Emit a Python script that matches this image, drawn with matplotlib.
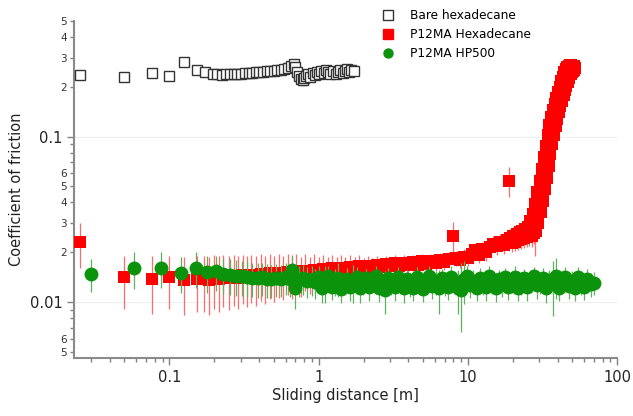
import matplotlib
matplotlib.use("Agg")
import matplotlib.pyplot as plt
from matplotlib.lines import Line2D
from matplotlib.ticker import FixedLocator, FixedFormatter, NullFormatter

plt.rcParams['font.family'] = ['DejaVu Sans']

# Bare hexadecane
bare_x = [0.0253, 0.05, 0.076, 0.1, 0.126, 0.154, 0.174, 0.197, 0.21, 0.225,
          0.24, 0.255, 0.27, 0.285, 0.3, 0.32, 0.34, 0.36, 0.38, 0.4,
          0.425, 0.45, 0.475, 0.5, 0.53, 0.56, 0.59, 0.62, 0.65, 0.68,
          0.7, 0.72, 0.74, 0.76, 0.78, 0.8, 0.82, 0.85, 0.88, 0.91,
          0.94, 0.97, 1.0, 1.04, 1.08, 1.12, 1.16, 1.2, 1.25, 1.3,
          1.35, 1.4, 1.45, 1.5, 1.55, 1.6, 1.65, 1.72]
bare_y = [0.235, 0.228, 0.242, 0.232, 0.283, 0.253, 0.244, 0.238, 0.237, 0.236,
          0.238, 0.239, 0.238, 0.24, 0.239, 0.241, 0.243, 0.242, 0.244, 0.245,
          0.244, 0.247, 0.248, 0.249, 0.251, 0.253, 0.256, 0.26, 0.268, 0.275,
          0.262, 0.245, 0.232, 0.222, 0.218, 0.225, 0.232, 0.238, 0.229, 0.241,
          0.236, 0.245, 0.24, 0.25, 0.243, 0.252, 0.246, 0.24, 0.248, 0.238,
          0.245, 0.252, 0.242, 0.25, 0.256, 0.246, 0.252, 0.248]
bare_err = 0.012

# P12MA in hexadecane
red_x = [0.0253, 0.05, 0.076, 0.1, 0.126, 0.154,
         0.17, 0.185, 0.2, 0.215, 0.23, 0.25, 0.27, 0.29, 0.31, 0.33,
         0.355, 0.38, 0.41, 0.44, 0.47, 0.5, 0.54, 0.58, 0.62, 0.66,
         0.71, 0.76, 0.81, 0.87, 0.93, 1.0, 1.07, 1.15, 1.23, 1.32,
         1.41, 1.51, 1.62, 1.74, 1.86, 2.0, 2.14, 2.3, 2.46, 2.64,
         2.83, 3.03, 3.25, 3.48, 3.73, 4.0, 4.29, 4.6, 4.93, 5.28,
         5.66, 6.07, 6.5, 6.97, 7.47, 7.9, 8.3, 8.8, 9.4, 10.0,
         10.6, 11.2, 11.8, 12.5, 13.2, 14.0, 14.8, 15.6, 16.5, 17.4,
         18.4, 18.8,
         19.2, 19.7, 20.2, 20.7, 21.2, 21.7, 22.2, 22.7, 23.2, 23.7,
         24.2, 24.7, 25.2, 25.7, 26.2, 26.7, 27.2, 27.7, 28.2, 28.7,
         29.2, 29.7, 30.2, 30.7, 31.2, 31.7, 32.2, 32.7, 33.2, 33.7,
         34.2, 34.7, 35.2, 35.7, 36.2, 36.7, 37.2, 37.7, 38.2, 38.7,
         39.2, 39.7, 40.2, 40.7, 41.2, 41.7, 42.2, 42.7, 43.2, 43.7,
         44.2, 44.7, 45.2, 45.7, 46.2, 46.7, 47.2, 47.7, 48.2, 48.7,
         49.2, 49.7, 50.2, 50.7, 51.2, 51.7, 52.2]
red_y = [0.023, 0.0141, 0.0137, 0.0141, 0.0136, 0.0138,
         0.0139, 0.0136, 0.0142, 0.0138, 0.0143, 0.0139, 0.0144, 0.014, 0.0145, 0.0141,
         0.0146, 0.0142, 0.0148, 0.0143, 0.0149, 0.0145, 0.015, 0.0146, 0.0152, 0.0147,
         0.0153, 0.0148, 0.0155, 0.015, 0.0157, 0.0151, 0.0158, 0.0153, 0.016, 0.0155,
         0.0161, 0.0156, 0.0163, 0.0158, 0.0165, 0.0159, 0.0166, 0.0161, 0.0168, 0.0162,
         0.0169, 0.0164, 0.0171, 0.0165, 0.0172, 0.0167, 0.0174, 0.0168, 0.0176, 0.017,
         0.0177, 0.0172, 0.0179, 0.0175, 0.0182, 0.025, 0.0184, 0.018, 0.0188, 0.0185,
         0.0195, 0.0205, 0.0192, 0.0208, 0.02, 0.0215, 0.0225, 0.0218, 0.0232, 0.0222,
         0.0238, 0.054,
         0.0245, 0.0228, 0.0252, 0.0232, 0.0258, 0.0236, 0.0264, 0.024, 0.027, 0.0244,
         0.0278, 0.0248, 0.0285, 0.0252, 0.031, 0.025, 0.034, 0.026, 0.039, 0.027,
         0.046, 0.03, 0.054, 0.035, 0.064, 0.041, 0.075, 0.048, 0.088, 0.056,
         0.102, 0.066, 0.118, 0.078, 0.132, 0.09, 0.145, 0.102, 0.157, 0.115,
         0.171, 0.127, 0.185, 0.14, 0.2, 0.152, 0.215, 0.165, 0.23, 0.178,
         0.245, 0.19, 0.255, 0.202, 0.262, 0.214, 0.268, 0.226, 0.27, 0.237,
         0.27, 0.245, 0.268, 0.25, 0.265, 0.252, 0.26]
red_err = [0.007, 0.005, 0.0052, 0.005, 0.0052, 0.0051,
           0.0052, 0.0052, 0.0051, 0.0051, 0.005, 0.005, 0.0049, 0.0049, 0.0048, 0.0048,
           0.0047, 0.0047, 0.0046, 0.0046, 0.0045, 0.0045, 0.0044, 0.0043, 0.0042, 0.0042,
           0.0041, 0.004, 0.0039, 0.0038, 0.0037, 0.0036, 0.0035, 0.0034, 0.0033, 0.0032,
           0.0031, 0.003, 0.0029, 0.0028, 0.0027, 0.0026, 0.0025, 0.0024, 0.0023, 0.0022,
           0.0022, 0.0021, 0.0021, 0.002, 0.002, 0.002, 0.0019, 0.0019, 0.0019, 0.0019,
           0.0019, 0.0019, 0.0019, 0.0019, 0.0019, 0.0055, 0.002, 0.002, 0.002, 0.002,
           0.002, 0.002, 0.0021, 0.0021, 0.0022, 0.0023, 0.0024, 0.0025, 0.0026, 0.0027,
           0.0028, 0.011,
           0.003, 0.0028, 0.0031, 0.0029, 0.0032, 0.003, 0.0033, 0.003, 0.0034, 0.0031,
           0.0035, 0.0032, 0.0037, 0.0033, 0.004, 0.0034, 0.0045, 0.0036, 0.02, 0.0038,
           0.006, 0.004, 0.007, 0.0045, 0.008, 0.0055, 0.0095, 0.0062, 0.011, 0.0072,
           0.012, 0.0085, 0.014, 0.01, 0.015, 0.0115, 0.016, 0.013, 0.017, 0.014,
           0.018, 0.015, 0.019, 0.016, 0.02, 0.017, 0.02, 0.018, 0.02, 0.019,
           0.02, 0.02, 0.02, 0.02, 0.02, 0.02, 0.02, 0.02, 0.02, 0.02,
           0.02, 0.02, 0.02, 0.02, 0.02, 0.02, 0.02]

# P12MA in HP500
green_x = [0.03, 0.058, 0.088, 0.12, 0.15, 0.18, 0.205, 0.23, 0.255, 0.28,
           0.305, 0.33, 0.36, 0.39, 0.42, 0.45, 0.48, 0.52, 0.56, 0.6,
           0.64, 0.66, 0.7, 0.74, 0.79, 0.84, 0.9, 0.95,
           1.0, 1.05, 1.1, 1.16, 1.22, 1.28, 1.34, 1.41, 1.48, 1.55,
           1.63, 1.71, 1.8, 1.89, 1.98, 2.08, 2.18, 2.29, 2.41, 2.53,
           2.65, 2.79, 2.93, 3.07, 3.23, 3.39, 3.56, 3.73, 3.92, 4.12,
           4.32, 4.54, 4.76, 5.0, 5.25, 5.52, 5.79, 6.08, 6.39, 6.7,
           7.04, 7.39, 7.76, 8.15, 8.56, 8.99, 9.43, 9.9, 10.4, 10.9,
           11.5, 12.0, 12.6, 13.3, 13.9, 14.6, 15.4, 16.1, 16.9, 17.8,
           18.7, 19.6, 20.6, 21.6, 22.7, 23.8, 25.0, 26.3, 27.6, 29.0,
           30.4, 31.9, 33.5, 35.2, 37.0, 38.8, 40.8, 42.8, 44.9, 47.2,
           49.5, 52.0, 54.6, 57.3, 60.2, 63.2, 66.4, 69.7]
green_y = [0.0148, 0.016, 0.0161, 0.015, 0.0161, 0.0152, 0.0153, 0.0148, 0.0146, 0.0144,
           0.0143, 0.0142, 0.014, 0.0139, 0.0141, 0.0138, 0.0137, 0.0139, 0.0137, 0.0141,
           0.0138, 0.0157, 0.0121, 0.0136, 0.0139, 0.0134, 0.0137, 0.0132,
           0.0141, 0.0122, 0.0132, 0.0143, 0.0124, 0.0134, 0.014, 0.012, 0.013, 0.0138,
           0.0123, 0.0133, 0.0142, 0.0121, 0.0131, 0.0139, 0.0124, 0.0135, 0.0143, 0.0122,
           0.0132, 0.0119, 0.014, 0.013, 0.0123, 0.0142, 0.0133, 0.0121, 0.0137, 0.0128,
           0.0122, 0.0141, 0.0131, 0.012, 0.0136, 0.0144, 0.0125, 0.0133, 0.0121, 0.0139,
           0.013, 0.0123, 0.0142, 0.0132, 0.0121, 0.0119, 0.0137, 0.0143, 0.0126, 0.0134,
           0.0121, 0.014, 0.013, 0.0123, 0.0143, 0.0132, 0.0122, 0.0137, 0.0128, 0.0141,
           0.0124, 0.0134, 0.0142, 0.0121, 0.0131, 0.0139, 0.0123, 0.0135, 0.0143, 0.0126,
           0.0132, 0.014, 0.0121, 0.0136, 0.013, 0.0144, 0.0122, 0.0133, 0.0141, 0.0125,
           0.0134, 0.0122, 0.0141, 0.013, 0.0124, 0.0138, 0.0128, 0.0131]
green_err = [0.0033, 0.004, 0.004, 0.0037, 0.004, 0.0038, 0.0037, 0.0036, 0.0035, 0.0035,
             0.0034, 0.0034, 0.0033, 0.0033, 0.0032, 0.0032, 0.0031, 0.0031, 0.003, 0.003,
             0.003, 0.0035, 0.003, 0.0029, 0.0029, 0.0028, 0.0028, 0.0027,
             0.0025, 0.0024, 0.0034, 0.0022, 0.0021, 0.0025, 0.0033, 0.0021, 0.002, 0.0023,
             0.0021, 0.0034, 0.002, 0.0022, 0.0021, 0.002, 0.0023, 0.002, 0.0021, 0.0022,
             0.002, 0.0034, 0.0021, 0.002, 0.0022, 0.002, 0.0021, 0.0023, 0.002, 0.0021,
             0.002, 0.0022, 0.0021, 0.002, 0.0023, 0.0021, 0.002, 0.0022, 0.0036, 0.002,
             0.0021, 0.002, 0.0022, 0.002, 0.0036, 0.0053, 0.004, 0.0021, 0.002, 0.0022,
             0.002, 0.0021, 0.002, 0.0022, 0.0021, 0.002, 0.0022, 0.002, 0.0021, 0.002,
             0.0021, 0.002, 0.0022, 0.002, 0.0021, 0.002, 0.0022, 0.0021, 0.002, 0.0021,
             0.002, 0.0021, 0.0022, 0.002, 0.0048, 0.004, 0.0021, 0.002, 0.0022, 0.002,
             0.0021, 0.002, 0.0022, 0.002, 0.0021, 0.002, 0.0021, 0.002]

labels = ["Bare hexadecane", "P12MA Hexadecane", "P12MA HP500"]
red = "#ff0000"
green = "#0c930c"

fig = plt.figure(figsize=(6.33, 4.16), dpi=100)
ax = fig.add_axes([0.117, 0.139, 0.858, 0.811])

ax.errorbar(bare_x, bare_y, yerr=bare_err, fmt='s', ms=7.5, mfc='white', mec='#333333',
            mew=1.0, ecolor='#777777', elinewidth=0.6, capsize=2, zorder=3)
ax.errorbar(red_x, red_y, yerr=red_err, fmt='s', ms=8.5, mfc=red, mec=red, mew=0,
            ecolor='#ff6a6a', elinewidth=0.9, capsize=3.5, capthick=0.9, zorder=4)
ax.errorbar(green_x, green_y, yerr=green_err, fmt='o', ms=10, mfc=green, mec=green, mew=0,
            ecolor='#5fb05f', elinewidth=0.9, capsize=3.5, capthick=0.9, zorder=5)

ax.set_xscale('log')
ax.set_yscale('log')
ax.set_xlim(0.023, 100)
ax.set_ylim(0.00458, 0.5)

# y ticks: major 0.01 / 0.1, minor mantissas labelled 2..6
ax.yaxis.set_major_locator(FixedLocator([0.01, 0.1]))
ax.yaxis.set_major_formatter(FixedFormatter(["0.01", "0.1"]))
ymin_ticks = [0.005, 0.006, 0.007, 0.008, 0.009,
              0.02, 0.03, 0.04, 0.05, 0.06, 0.07, 0.08, 0.09,
              0.2, 0.3, 0.4, 0.5]
ymin_labels = ["5", "6", "", "", "",
               "2", "3", "4", "5", "6", "", "", "",
               "2", "3", "4", "5"]
ax.yaxis.set_minor_locator(FixedLocator(ymin_ticks))
ax.yaxis.set_minor_formatter(FixedFormatter(ymin_labels))

ax.xaxis.set_major_locator(FixedLocator([0.1, 1, 10, 100]))
ax.xaxis.set_major_formatter(FixedFormatter(["0.1", "1", "10", "100"]))
xmin_ticks = [0.03, 0.04, 0.05, 0.06, 0.07, 0.08, 0.09,
              0.2, 0.3, 0.4, 0.5, 0.6, 0.7, 0.8, 0.9,
              2, 3, 4, 5, 6, 7, 8, 9,
              20, 30, 40, 50, 60, 70, 80, 90]
ax.xaxis.set_minor_locator(FixedLocator(xmin_ticks))
ax.xaxis.set_minor_formatter(NullFormatter())

ax.tick_params(which='major', direction='out', length=5, width=1, color='#808080',
               labelsize=10.5, labelcolor='#222222')
ax.tick_params(which='minor', direction='out', length=3, width=1, color='#808080')
ax.tick_params(axis='y', which='minor', labelsize=7.5, labelcolor='#333333', pad=2)

for s in ['top', 'right']:
    ax.spines[s].set_visible(False)
for s in ['left', 'bottom']:
    ax.spines[s].set_color('#8a8a8a')
    ax.spines[s].set_linewidth(1.5)

for g in [0.01, 0.1]:
    ax.axhline(g, color='#eeeeee', lw=0.8, zorder=0)

ax.set_xlabel("Sliding distance [m]", fontsize=10.5, color='#222222', labelpad=2)
ax.set_ylabel("Coefficient of friction", fontsize=10.5, color='#222222', labelpad=4)

handles = [
    Line2D([], [], ls='', marker='s', ms=6.5, mfc='white', mec='#333333', mew=1.0),
    Line2D([], [], ls='', marker='s', ms=6.5, mfc=red, mec=red),
    Line2D([], [], ls='', marker='o', ms=6.5, mfc=green, mec=green),
]
ax.legend(handles, labels, loc='upper left', bbox_to_anchor=(0.5997, 0.984),
          bbox_transform=fig.transFigure, frameon=False, fontsize=8.7,
          handlelength=1.0, handletextpad=1.33, labelspacing=0.5, borderpad=0.2,
          borderaxespad=0)

fig.savefig("out.png", dpi=100)
